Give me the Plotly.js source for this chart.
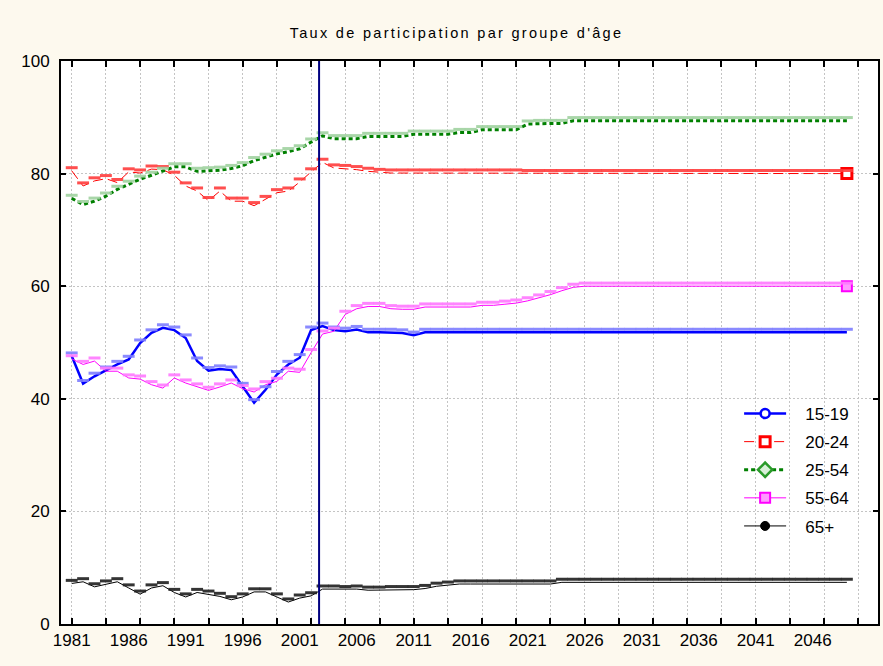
<!DOCTYPE html>
<html>
<head>
<meta charset="utf-8">
<script src="https://cdn.plot.ly/plotly-3.0.1.min.js"></script>
<style>
html,body{margin:0;padding:0;background:#fdf9ee;}
#chart{width:883px;height:666px;}
#chart .gtitle{letter-spacing:2.3px;}
</style>
</head>
<body>
<div id="chart"></div>
<script>
// ---- data ----
const years = [1981,1982,1983,1984,1985,1986,1987,1988,1989,1990,
  1991,1992,1993,1994,1995,1996,1997,1998,1999,2000,
  2001,2002,2003,2004,2005,2006,2007,2008,2009,2010,
  2011,2012,2013,2014,2015,2016,2017,2018,2019,2020,
  2021,2022,2023,2024,2025,2026,2027,2028,2029,2030,
  2031,2032,2033,2034,2035,2036,2037,2038,2039,2040,
  2041,2042,2043,2044,2045,2046,2047,2048,2049];

const age15_19 = [47.6,42.7,44.0,45.1,46.1,47.0,49.9,51.7,52.6,52.2,
  50.8,46.7,45.0,45.3,45.1,42.2,39.3,41.6,44.3,46.1,
  47.3,52.2,52.9,52.2,52.0,52.3,51.8,51.8,51.8,51.7,
  51.3,51.8,51.8,51.8,51.8,51.8,51.8,51.8,51.8,51.8,
  51.8,51.8,51.8,51.8,51.8,51.8,51.8,51.8,51.8,51.8,
  51.8,51.8,51.8,51.8,51.8,51.8,51.8,51.8,51.8,51.8,
  51.8,51.8,51.8,51.8,51.8,51.8,51.8,51.8,51.8];

const age20_24 = [80.5,77.8,78.7,79.1,78.4,80.3,80.1,80.8,80.7,79.7,
  77.8,76.9,75.2,76.9,75.1,75.1,74.3,75.4,76.6,76.9,
  78.5,80.3,82.0,81.0,80.9,80.7,80.4,80.2,80.1,80.1,
  80.1,80.1,80.1,80.1,80.1,80.1,80.1,80.1,80.1,80.1,
  80.0,80.0,80.0,80.0,80.0,80.0,80.0,80.0,80.0,80.0,
  80.0,80.0,80.0,80.0,80.0,80.0,80.0,80.0,80.0,80.0,
  80.0,80.0,80.0,80.0,80.0,80.0,80.0,80.0,80.0];

const age25_54 = [75.6,74.5,75.1,76.0,77.2,78.1,79.0,79.7,80.4,81.2,
  81.2,80.4,80.5,80.6,80.9,81.4,82.3,82.9,83.5,83.9,
  84.4,85.6,86.7,86.2,86.2,86.2,86.6,86.6,86.6,86.6,
  87.0,87.0,87.0,87.0,87.3,87.3,87.8,87.8,87.8,87.8,
  88.8,88.9,88.9,88.9,89.4,89.4,89.4,89.4,89.4,89.4,
  89.4,89.4,89.4,89.4,89.4,89.4,89.4,89.4,89.4,89.4,
  89.4,89.4,89.4,89.4,89.4,89.4,89.4,89.4,89.4];

const age55_64 = [47.1,46.1,46.7,44.9,44.9,43.7,43.5,42.5,41.9,43.7,
  42.8,42.1,41.5,42.1,42.8,41.8,41.2,42.5,43.1,44.9,
  44.7,48.2,51.5,52.0,55.0,56.0,56.4,56.4,56.0,55.9,
  55.9,56.3,56.3,56.3,56.3,56.3,56.6,56.6,56.8,57.0,
  57.4,57.9,58.5,59.2,59.8,60.0,60.0,60.0,60.0,60.0,
  60.0,60.0,60.0,60.0,60.0,60.0,60.0,60.0,60.0,60.0,
  60.0,60.0,60.0,60.0,60.0,60.0,60.0,60.0,60.0];

const age65plus = [7.2,7.5,6.6,7.1,7.5,6.4,5.3,6.4,6.8,5.6,
  4.8,5.6,5.3,4.9,4.3,4.8,5.7,5.7,4.8,3.9,
  4.6,5.0,6.2,6.2,6.1,6.2,6.0,6.0,6.1,6.1,
  6.1,6.3,6.7,6.9,7.1,7.1,7.1,7.1,7.1,7.1,
  7.1,7.1,7.1,7.4,7.4,7.4,7.4,7.4,7.4,7.4,
  7.4,7.4,7.4,7.4,7.4,7.4,7.4,7.4,7.4,7.4,
  7.4,7.4,7.4,7.4,7.4,7.4,7.4,7.4,7.4];

const seriesNames = ['15-19','20-24','25-54','55-64','65+'];
const labelYears = [1981,1986,1991,1996,2001,2006,2011,2016,2021,2026,2031,2036,2041,2046];
const projectionStart = 2002.7;
const titleText = "Taux de participation par groupe d'âge";

// ---- styles ----
const FONT = 'Liberation Sans, Arial, sans-serif';
const styles = [
  {line:{color:'#0000ff', width:2.5}, mk:'rgba(125,125,255,0.9)',
   leg:{symbol:'circle', size:9, color:'#ffffff', line:{color:'#0000ff', width:2.5}}, end:false},
  {line:{color:'#ff0000', width:1, dash:'10px,5px'}, mk:'rgba(255,60,60,0.9)',
   leg:{symbol:'square', size:10, color:'#ffffff', line:{color:'#ff0000', width:3}}, end:true},
  {line:{color:'#008000', width:3, dash:'4px,3px'}, mk:'rgba(160,210,160,0.9)',
   leg:{symbol:'diamond', size:11, color:'#d8f0d8', line:{color:'#2a9a2a', width:2.5}}, end:false},
  {line:{color:'#ff00ff', width:1}, mk:'rgba(255,120,255,0.9)',
   leg:{symbol:'square', size:10, color:'#ff99ff', line:{color:'#ff00ff', width:2}}, end:true},
  {line:{color:'#000000', width:1}, mk:'rgba(30,30,30,0.9)',
   leg:{symbol:'circle', size:9, color:'#000000', line:{color:'#000000', width:1}}, end:false}
];
const allSeries = [age15_19, age20_24, age25_54, age55_64, age65plus];

const traces = [];
// point markers (on a slightly shifted overlay scale, drawn under the lines)
allSeries.forEach((vals, i) => {
  traces.push({
    x: years, y: vals, type:'scatter', mode:'markers', yaxis:'y2',
    name: seriesNames[i], showlegend:false, hoverinfo:'skip',
    marker:{symbol:'line-ew', size:8.5, line:{color:styles[i].mk, width:3}, color:styles[i].mk}
  });
});
// lines
allSeries.forEach((vals, i) => {
  traces.push({
    x: years, y: vals, type:'scatter', mode:'lines',
    name: seriesNames[i], showlegend:false, hoverinfo:'x+y',
    line: styles[i].line
  });
});
// legend entries (also mark last point where the reference does)
allSeries.forEach((vals, i) => {
  const st = styles[i];
  const lastX = st.end ? [years[years.length-1]] : [null];
  const lastY = st.end ? [vals[vals.length-1]] : [null];
  traces.push({
    x: lastX, y: lastY, type:'scatter', mode:'lines+markers',
    name: '&nbsp;&nbsp;&nbsp;' + seriesNames[i], legendgroup:'g'+i, showlegend:true,
    line: st.line, marker: st.leg, hoverinfo:'skip'
  });
});
// projection start line
traces.push({
  x:[projectionStart, projectionStart], y:[0,100], xaxis:'x2', yaxis:'y',
  type:'scatter', mode:'lines', showlegend:false, hoverinfo:'skip',
  line:{color:'#000080', width:2}
});

const xr = [1980.06, 2051.73];
const GRID = '#c4c4c4';
const layout = {
  width:883, height:666,
  paper_bgcolor:'#fdf9ee', plot_bgcolor:'#ffffff',
  margin:{l:61, r:5, t:61, b:42},
  font:{family:FONT, size:17, color:'#000000'},
  title:{text:titleText, font:{family:FONT, size:14.5, color:'#000'}, x:0.517, xanchor:'center', y:0.95, yanchor:'middle'},
  xaxis:{range:xr, tickmode:'array', tickvals:labelYears, ticktext:labelYears.map(String),
    ticks:'', showgrid:false, zeroline:false, showline:true, linecolor:'#000', linewidth:2, mirror:true,
    tickfont:{family:FONT, size:17}},
  xaxis2:{range:xr, overlaying:'x', side:'bottom', tick0:1981, dtick:3, showticklabels:false,
    ticks:'inside', ticklen:6, tickwidth:2, tickcolor:'#000', showgrid:true, gridcolor:GRID, gridwidth:1, griddash:'2px,2px',
    zeroline:false, showline:true, linecolor:'#000', linewidth:2, mirror:'ticks'},
  yaxis:{range:[0,100], dtick:20, ticks:'inside', ticklen:5, tickwidth:2, tickcolor:'#000',
    showgrid:true, gridcolor:GRID, gridwidth:1, griddash:'2px,2px', zeroline:false,
    showline:true, linecolor:'#000', linewidth:2, mirror:'ticks', ticklabelstandoff:6,
    tickfont:{family:FONT, size:17}},
  yaxis2:{range:[-0.55, 99.45], overlaying:'y', visible:false, showgrid:false, zeroline:false},
  legend:{x:0.83, y:0.405, xanchor:'left', yanchor:'top', bgcolor:'rgba(0,0,0,0)',
    font:{family:FONT, size:17}, tracegroupgap:3, itemwidth:42, traceorder:'grouped'},
  showlegend:true
};

Plotly.newPlot('chart', traces, layout, {displayModeBar:false, staticPlot:true});
</script>
</body>
</html>
